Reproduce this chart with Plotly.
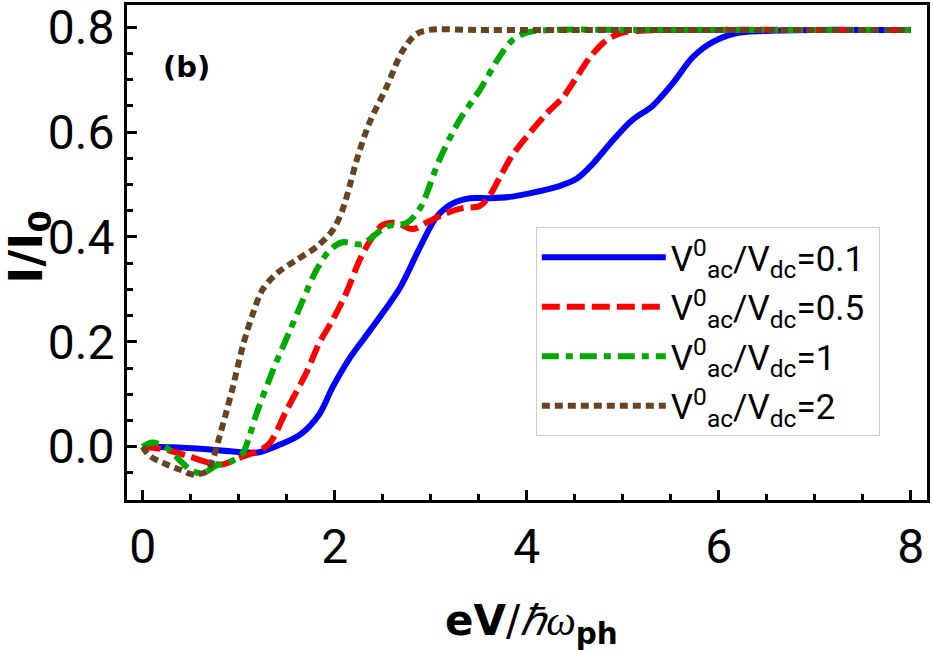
import plotly.graph_objects as go

# ---- data ----
x_blue = [0, 0.3, 0.6, 1.0, 1.2, 1.43, 1.64, 1.84, 1.98, 2.16, 2.3, 2.5, 2.68, 2.89, 3.06, 3.23, 3.41, 3.61, 3.85,
          4.1, 4.34, 4.52, 4.69, 4.9, 5.1, 5.31, 5.52, 5.73, 5.94, 6.19, 6.46, 7.0, 7.5, 8.0]
y_blue = [0, -0.001, -0.004, -0.01, -0.011, 0.004, 0.023, 0.062, 0.114, 0.17, 0.205, 0.255, 0.303, 0.381, 0.438,
          0.464, 0.474, 0.474, 0.477, 0.486, 0.497, 0.511, 0.54, 0.585, 0.623, 0.65, 0.693, 0.743, 0.772, 0.789,
          0.793, 0.795, 0.795, 0.795]

x_red = [0, 0.25, 0.49, 0.7, 0.83, 1.01, 1.19, 1.32, 1.5, 1.71, 1.84, 1.98, 2.12, 2.26, 2.36, 2.5, 2.64, 2.81,
         2.97, 3.17, 3.33, 3.51, 3.61, 3.72, 3.85, 4.03, 4.21, 4.38, 4.52, 4.66, 4.83, 5.0, 5.25, 6.0, 7.0, 8.0]
y_red = [0, -0.006, -0.019, -0.031, -0.034, -0.021, -0.009, 0.006, 0.07, 0.143, 0.198, 0.242, 0.293, 0.356, 0.39,
         0.423, 0.427, 0.415, 0.429, 0.446, 0.455, 0.459, 0.478, 0.514, 0.556, 0.598, 0.636, 0.667, 0.705, 0.743,
         0.775, 0.79, 0.794, 0.795, 0.795, 0.795]

x_green = [0, 0.1, 0.25, 0.38, 0.52, 0.63, 0.77, 0.9, 1.04, 1.11, 1.19, 1.36, 1.53, 1.67, 1.81, 1.95, 2.08, 2.29,
           2.4, 2.54, 2.75, 2.89, 3.09, 3.3, 3.51, 3.72, 3.85, 4.0, 4.3, 5.0, 6.0, 7.0, 8.0]
y_green = [0, 0.008, -0.002, -0.025, -0.047, -0.05, -0.036, -0.03, -0.013, 0.019, 0.065, 0.147, 0.22, 0.28,
           0.337, 0.375, 0.39, 0.386, 0.401, 0.42, 0.427, 0.455, 0.547, 0.623, 0.68, 0.745, 0.775, 0.79, 0.795,
           0.795, 0.795, 0.795, 0.795]

x_brown = [0, 0.07, 0.25, 0.39, 0.52, 0.67, 0.73, 0.8, 0.87, 0.94, 1.04, 1.15, 1.25, 1.4, 1.6, 1.81, 1.98,
           2.08, 2.16, 2.23, 2.36, 2.54, 2.71, 2.85, 2.99, 3.5, 4.5, 6.0, 7.0, 8.0]
y_brown = [0.0, -0.017, -0.034, -0.044, -0.053, -0.047, -0.025, 0.019, 0.065, 0.114, 0.19, 0.255, 0.3, 0.331,
           0.356, 0.381, 0.413, 0.451, 0.5, 0.547, 0.617, 0.686, 0.756, 0.787, 0.795, 0.795, 0.795, 0.795,
           0.795, 0.795]

series_names = ["V<sup>0</sup><sub>ac</sub>/V<sub>dc</sub>=0.1&nbsp;",
                "V<sup>0</sup><sub>ac</sub>/V<sub>dc</sub>=0.5&nbsp;",
                "V<sup>0</sup><sub>ac</sub>/V<sub>dc</sub>=1",
                "V<sup>0</sup><sub>ac</sub>/V<sub>dc</sub>=2"]

x_ticks = [0, 2, 4, 6, 8]
y_ticks = [0.0, 0.2, 0.4, 0.6, 0.8]
y_ticktext = ["0.0", "0.2", "0.4", "0.6", "0.8"]

x_title = "<b>eV</b>/<i><span style='font-family:Liberation Serif'>ℏω</span></i><sub><b>ph</b></sub>"
y_title = "<b>I/I<sub>0</sub></b>"
panel_label = "<b>(b)</b>"

XR = [-0.163, 8.169]
YR = [-0.1017, 0.8425]

FAM = "Roboto"
TICKFONT = dict(family=FAM, size=48, color="black")

fig = go.Figure()
styles = [
    (x_blue, y_blue, "#0000ff", "solid", 6),
    (x_red, y_red, "#ff0000", "18px,7px", 6),
    (x_green, y_green, "#00aa00", "17px,7px,7px,7px", 6),
    (x_brown, y_brown, "#664422", "8px,5px", 6),
]
for i, ((xs, ys, col, dash, w), name) in enumerate(zip(styles, series_names)):
    fig.add_trace(go.Scatter(x=xs, y=ys, mode="lines", name=name, legendgroup=f"g{i}",
                             line=dict(color=col, dash=dash, width=w, shape="spline", smoothing=0.9)))

fig.update_layout(
    width=933, height=650,
    margin=dict(l=127, r=5.5, t=5, b=150, autoexpand=False),
    plot_bgcolor="white", paper_bgcolor="white",
    showlegend=True,
    legend=dict(x=0.511, y=0.5515, xanchor="left", yanchor="top",
                bgcolor="white", bordercolor="#cccccc", borderwidth=1,
                font=dict(family=FAM, size=35, color="black"),
                itemwidth=124, traceorder="grouped", tracegroupgap=1),
    xaxis=dict(range=XR, tickmode="array", tickvals=x_ticks, ticktext=[str(v) for v in x_ticks],
               ticks="inside", ticklen=10, tickwidth=3, tickcolor="black", automargin=False,
               showline=True, linewidth=3, linecolor="black", mirror=True, ticklabeloverflow="allow",
               showgrid=False, zeroline=False, tickfont=TICKFONT, ticklabelstandoff=2,
               minor=dict(dtick=0.5, tick0=0, ticks="inside", ticklen=6, tickwidth=3, tickcolor="black", showgrid=False)),
    yaxis=dict(range=YR, tickmode="array", tickvals=y_ticks, ticktext=y_ticktext,
               ticks="inside", ticklen=10, tickwidth=3, tickcolor="black", automargin=False,
               showline=True, linewidth=3, linecolor="black", mirror=True, ticklabeloverflow="allow",
               showgrid=False, zeroline=False, tickfont=TICKFONT,
               minor=dict(dtick=0.05, tick0=0, ticks="inside", ticklen=6, tickwidth=3, tickcolor="black", showgrid=False)),
    xaxis2=dict(range=XR, overlaying="x", side="top", anchor="y", tickmode="array", tickvals=x_ticks,
                showticklabels=False, ticks="inside", ticklen=7, tickwidth=1, tickcolor="#999999", automargin=False,
                minor=dict(dtick=0.5, tick0=0, ticks="inside", ticklen=4, tickwidth=1, tickcolor="#999999"),
                showgrid=False, zeroline=False, showline=False),
    yaxis2=dict(range=YR, overlaying="y", side="right", anchor="x", tickmode="array", tickvals=y_ticks,
                showticklabels=False, ticks="inside", ticklen=7, tickwidth=1, tickcolor="#999999", automargin=False,
                minor=dict(dtick=0.05, tick0=0, ticks="inside", ticklen=4, tickwidth=1, tickcolor="#999999"),
                showgrid=False, zeroline=False, showline=False),
    annotations=[
        dict(text=panel_label, x=0.0425, y=0.913, xref="paper", yref="paper", xanchor="left", yanchor="top",
             showarrow=False, font=dict(family="DejaVu Sans", size=29, color="black")),
        dict(text=x_title, x=0.505, y=-0.25, xref="paper", yref="paper", xanchor="center", yanchor="middle",
             showarrow=False, font=dict(family="DejaVu Sans", size=42, color="black")),
        dict(text=y_title, x=-0.1224, y=0.51, xref="paper", yref="paper", xanchor="center", yanchor="middle",
             textangle=-90, showarrow=False, font=dict(family="DejaVu Sans", size=46, color="black")),
    ],
)

fig.write_html("out.html")
